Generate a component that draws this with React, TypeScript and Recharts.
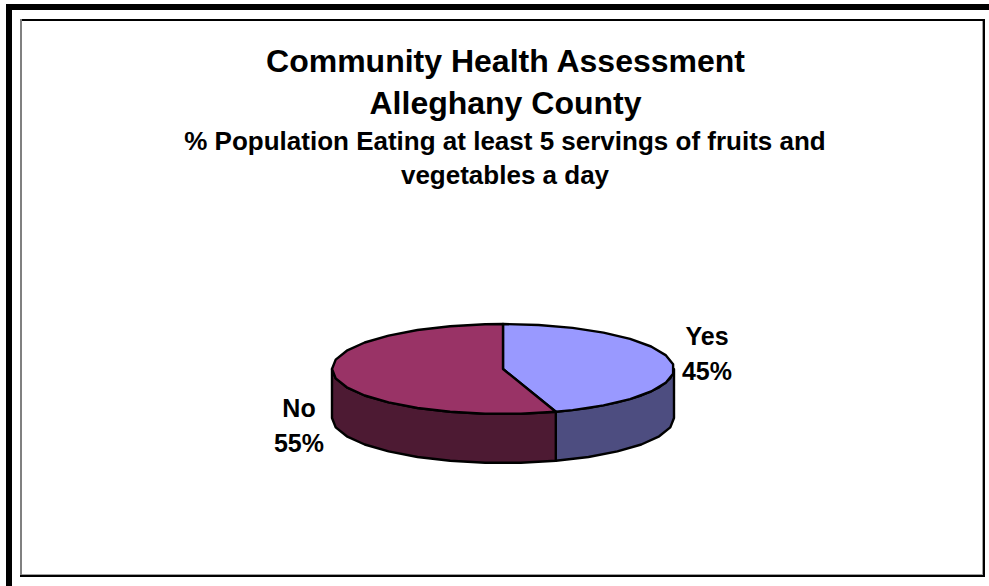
import React from 'react';
import { PieChart, Pie, Cell } from 'recharts';

const categories = ['Yes', 'No'];
const seriesValues = [45, 55];
const topColors = ['#9999FF', '#993366'];
const wallColors = ['#4D4D80', '#4D1A33'];
const titleLines = ['Community Health Assessment', 'Alleghany County'];
const subtitleLines = ['% Population Eating at least 5 servings of fruits and', 'vegetables a day'];

const data = categories.map((name, i) => ({ name, value: seriesValues[i] }));

const W = 989;
const H = 586;
const CX = 503;
const CY = 369;
const RX = 171;
const SQUASH = 45 / 171;
const DEPTH = 49;
const STEP = 12;

const pt = (r: number, deg: number, dy = 0): [number, number] => {
  const a = (deg * Math.PI) / 180;
  return [CX + r * Math.cos(a), CY - r * SQUASH * Math.sin(a) + dy];
};

const arcPoints = (from: number, to: number, dy = 0) => {
  const out: [number, number][] = [];
  const dir = to > from ? 1 : -1;
  let a = from;
  while ((a - to) * dir < 0) {
    out.push(pt(RX, a, dy));
    a += STEP * dir;
  }
  out.push(pt(RX, to, dy));
  return out;
};

const toPath = (p: [number, number][]) => 'M' + p.map((q) => q[0].toFixed(1) + ' ' + q[1].toFixed(1)).join('L') + 'Z';

const Slab = (props: any) => {
  const { startAngle, endAngle, fill, index } = props;
  const hi = Math.max(startAngle, endAngle);
  const lo = Math.min(startAngle, endAngle);
  // the visible side runs along the front half of the disc
  const wallFrom = Math.max(lo, -180);
  const wallTo = Math.min(hi, 0);
  let wallPath: string | null = null;
  if (wallTo > wallFrom) {
    const topEdge = arcPoints(wallFrom, wallTo);
    const botEdge = arcPoints(wallTo, wallFrom, DEPTH);
    wallPath = toPath([...topEdge, ...botEdge]);
  }
  const top = [[CX, CY] as [number, number], ...arcPoints(startAngle, endAngle)];
  return (
    <g>
      {wallPath && <path d={wallPath} fill={wallColors[index]} stroke="#000" strokeWidth={2.4} strokeLinejoin="round" />}
      <path d={toPath(top)} fill={fill} stroke="#000" strokeWidth={2.4} strokeLinejoin="round" />
    </g>
  );
};

const font = "'Liberation Sans', Arial, sans-serif";

const renderLabel = (props: any) => {
  const { index, name, value } = props;
  const x = index === 0 ? 707 : 299;
  const y = index === 0 ? 345 : 417;
  return (
    <text x={x} textAnchor="middle" fontFamily={font} fontWeight={700} fontSize={25} fill="#000">
      <tspan x={x} y={y}>{name}</tspan>
      <tspan x={x} y={y + 35}>{value}%</tspan>
    </text>
  );
};

export default function App() {
  return (
    <div style={{ position: 'absolute', left: 0, top: 0, width: W, height: H, background: '#fff' }}>
      <div style={{ position: 'absolute', left: 6, top: 4, width: 983, height: 6, background: '#000' }} />
      <div style={{ position: 'absolute', left: 6, top: 4, width: 6, height: 582, background: '#000' }} />
      <div style={{ position: 'absolute', left: 20, top: 19, width: 964, height: 2, background: '#000' }} />
      <div style={{ position: 'absolute', left: 20, top: 19, width: 2, height: 558, background: '#808080' }} />
      <div style={{ position: 'absolute', left: 20, top: 575, width: 965, height: 2, background: '#000' }} />
      <div style={{ position: 'absolute', left: 22, top: 574, width: 961, height: 1, background: '#a0a0a0' }} />
      <div style={{ position: 'absolute', left: 983, top: 19, width: 2, height: 558, background: '#000' }} />
      <div style={{ position: 'absolute', left: 982, top: 21, width: 1, height: 553, background: '#a0a0a0' }} />
      <div style={{ position: 'absolute', left: 0, top: 0 }}>
        <PieChart width={W} height={H}>
          <text x={505.5} textAnchor="middle" fontFamily={font} fontWeight={700} fontSize={32} fill="#000">
            <tspan x={505.5} y={72}>{titleLines[0]}</tspan>
            <tspan x={505.5} y={114}>{titleLines[1]}</tspan>
          </text>
          <text x={505} textAnchor="middle" fontFamily={font} fontWeight={700} fontSize={26} fill="#000">
            <tspan x={505} y={150}>{subtitleLines[0]}</tspan>
            <tspan x={505} y={184}>{subtitleLines[1]}</tspan>
          </text>
          <Pie
            data={data}
            dataKey="value"
            nameKey="name"
            cx={CX}
            cy={CY}
            outerRadius={RX}
            startAngle={90}
            endAngle={-270}
            isAnimationActive={false}
            shape={Slab}
            label={renderLabel}
            labelLine={false}
          >
            {data.map((d, i) => (
              <Cell key={d.name} fill={topColors[i]} />
            ))}
          </Pie>
        </PieChart>
      </div>
    </div>
  );
}
